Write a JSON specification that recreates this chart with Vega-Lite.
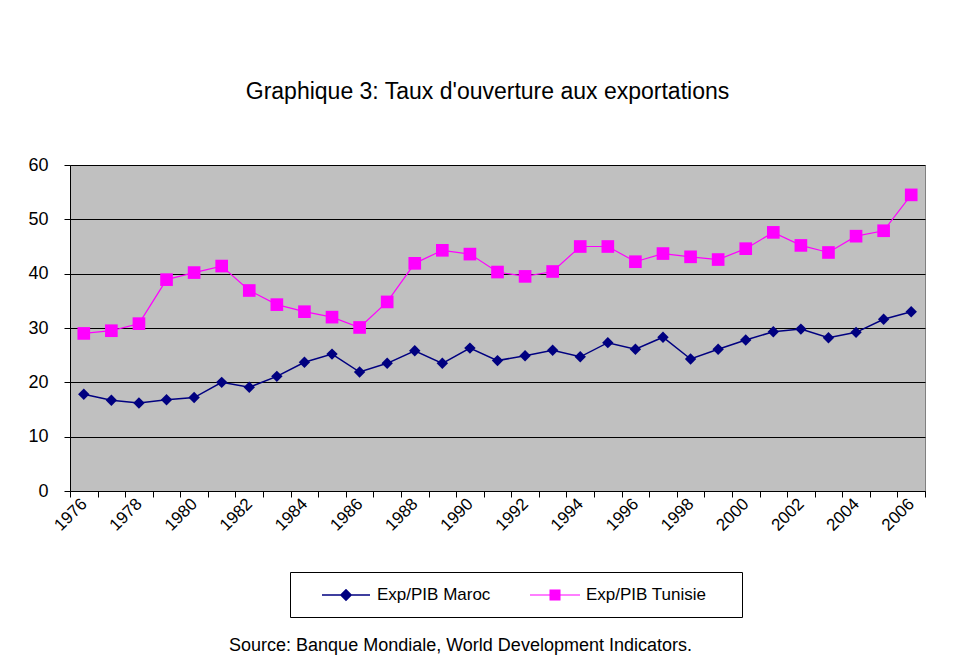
{
  "$schema": "https://vega.github.io/schema/vega-lite/v6.json",
  "width": 855,
  "height": 326,
  "autosize": {"type": "none"},
  "padding": {"left": 70, "top": 165, "right": 32, "bottom": 179},
  "background": "white",
  "title": {
    "text": "Graphique 3: Taux d'ouverture aux exportations",
    "font": "Liberation Sans",
    "fontSize": 23,
    "fontWeight": "normal",
    "color": "black",
    "anchor": "middle",
    "offset": 52,
    "dx": -10
  },
  "config": {
    "view": {"fill": "#C0C0C0", "stroke": "#808080", "strokeWidth": 1},
    "axis": {"labelFont": "Liberation Sans", "titleFont": "Liberation Sans", "labelColor": "black", "titleColor": "black", "domainColor": "black", "tickColor": "black"},
    "legend": {"labelFont": "Liberation Sans", "titleFont": "Liberation Sans"}
  },
  "data": {
    "values": [
      {"year": 1976, "series": "Exp/PIB Maroc", "value": 17.8},
      {"year": 1977, "series": "Exp/PIB Maroc", "value": 16.7},
      {"year": 1978, "series": "Exp/PIB Maroc", "value": 16.2},
      {"year": 1979, "series": "Exp/PIB Maroc", "value": 16.8},
      {"year": 1980, "series": "Exp/PIB Maroc", "value": 17.2},
      {"year": 1981, "series": "Exp/PIB Maroc", "value": 20.0},
      {"year": 1982, "series": "Exp/PIB Maroc", "value": 19.1},
      {"year": 1983, "series": "Exp/PIB Maroc", "value": 21.1},
      {"year": 1984, "series": "Exp/PIB Maroc", "value": 23.7},
      {"year": 1985, "series": "Exp/PIB Maroc", "value": 25.2},
      {"year": 1986, "series": "Exp/PIB Maroc", "value": 21.9},
      {"year": 1987, "series": "Exp/PIB Maroc", "value": 23.5},
      {"year": 1988, "series": "Exp/PIB Maroc", "value": 25.8},
      {"year": 1989, "series": "Exp/PIB Maroc", "value": 23.5},
      {"year": 1990, "series": "Exp/PIB Maroc", "value": 26.3},
      {"year": 1991, "series": "Exp/PIB Maroc", "value": 24.0},
      {"year": 1992, "series": "Exp/PIB Maroc", "value": 24.9},
      {"year": 1993, "series": "Exp/PIB Maroc", "value": 25.9},
      {"year": 1994, "series": "Exp/PIB Maroc", "value": 24.7},
      {"year": 1995, "series": "Exp/PIB Maroc", "value": 27.3},
      {"year": 1996, "series": "Exp/PIB Maroc", "value": 26.1},
      {"year": 1997, "series": "Exp/PIB Maroc", "value": 28.3},
      {"year": 1998, "series": "Exp/PIB Maroc", "value": 24.3},
      {"year": 1999, "series": "Exp/PIB Maroc", "value": 26.1},
      {"year": 2000, "series": "Exp/PIB Maroc", "value": 27.8},
      {"year": 2001, "series": "Exp/PIB Maroc", "value": 29.3},
      {"year": 2002, "series": "Exp/PIB Maroc", "value": 29.8},
      {"year": 2003, "series": "Exp/PIB Maroc", "value": 28.2},
      {"year": 2004, "series": "Exp/PIB Maroc", "value": 29.2},
      {"year": 2005, "series": "Exp/PIB Maroc", "value": 31.6},
      {"year": 2006, "series": "Exp/PIB Maroc", "value": 33.0},
      {"year": 1976, "series": "Exp/PIB Tunisie", "value": 29.0},
      {"year": 1977, "series": "Exp/PIB Tunisie", "value": 29.5},
      {"year": 1978, "series": "Exp/PIB Tunisie", "value": 30.8},
      {"year": 1979, "series": "Exp/PIB Tunisie", "value": 38.9},
      {"year": 1980, "series": "Exp/PIB Tunisie", "value": 40.2},
      {"year": 1981, "series": "Exp/PIB Tunisie", "value": 41.4},
      {"year": 1982, "series": "Exp/PIB Tunisie", "value": 36.9},
      {"year": 1983, "series": "Exp/PIB Tunisie", "value": 34.3},
      {"year": 1984, "series": "Exp/PIB Tunisie", "value": 33.0},
      {"year": 1985, "series": "Exp/PIB Tunisie", "value": 32.0},
      {"year": 1986, "series": "Exp/PIB Tunisie", "value": 30.1},
      {"year": 1987, "series": "Exp/PIB Tunisie", "value": 34.8},
      {"year": 1988, "series": "Exp/PIB Tunisie", "value": 41.9},
      {"year": 1989, "series": "Exp/PIB Tunisie", "value": 44.3},
      {"year": 1990, "series": "Exp/PIB Tunisie", "value": 43.6},
      {"year": 1991, "series": "Exp/PIB Tunisie", "value": 40.3},
      {"year": 1992, "series": "Exp/PIB Tunisie", "value": 39.5},
      {"year": 1993, "series": "Exp/PIB Tunisie", "value": 40.4},
      {"year": 1994, "series": "Exp/PIB Tunisie", "value": 45.0},
      {"year": 1995, "series": "Exp/PIB Tunisie", "value": 45.0},
      {"year": 1996, "series": "Exp/PIB Tunisie", "value": 42.2},
      {"year": 1997, "series": "Exp/PIB Tunisie", "value": 43.7},
      {"year": 1998, "series": "Exp/PIB Tunisie", "value": 43.1},
      {"year": 1999, "series": "Exp/PIB Tunisie", "value": 42.6},
      {"year": 2000, "series": "Exp/PIB Tunisie", "value": 44.6},
      {"year": 2001, "series": "Exp/PIB Tunisie", "value": 47.6},
      {"year": 2002, "series": "Exp/PIB Tunisie", "value": 45.2},
      {"year": 2003, "series": "Exp/PIB Tunisie", "value": 43.9},
      {"year": 2004, "series": "Exp/PIB Tunisie", "value": 46.9},
      {"year": 2005, "series": "Exp/PIB Tunisie", "value": 47.9},
      {"year": 2006, "series": "Exp/PIB Tunisie", "value": 54.5}
    ]
  },
  "encoding": {
    "x": {
      "field": "year",
      "type": "ordinal",
      "bandPosition": 0.5,
      "scale": {"type": "band", "paddingInner": 0, "paddingOuter": 0},
      "axis": {
        "title": "Source: Banque Mondiale, World Development Indicators.",
        "titleFontSize": 18,
        "titleFontWeight": "normal",
        "titlePadding": 103,
        "titleX": 390,
        "labelExpr": "datum.value % 2 == 0 ? datum.label : ''",
        "labelAngle": -45,
        "labelAlign": "right",
        "labelBaseline": "middle",
        "labelFontSize": 17,
        "labelPadding": 4,
        "tickBand": "extent",
        "tickSize": 6,
        "grid": false,
        "domainColor": "black"
      }
    },
    "y": {
      "field": "value",
      "type": "quantitative",
      "scale": {"domain": [0, 60], "nice": false},
      "axis": {
        "title": null,
        "values": [0, 10, 20, 30, 40, 50, 60],
        "labelFontSize": 18,
        "labelPadding": 16,
        "tickSize": 6,
        "grid": true,
        "gridColor": "black",
        "gridWidth": 1,
        "gridOpacity": 1
      }
    }
  },
  "layer": [
    {
      "mark": {"type": "line"},
      "encoding": {
        "color": {
          "field": "series",
          "type": "nominal",
          "scale": {"domain": ["Exp/PIB Maroc", "Exp/PIB Tunisie"], "range": ["#000080", "#FF00FF"]},
          "legend": null
        },
        "strokeWidth": {
          "field": "series",
          "type": "nominal",
          "scale": {"domain": ["Exp/PIB Maroc", "Exp/PIB Tunisie"], "range": [1.5, 1.2]},
          "legend": null
        }
      }
    },
    {
      "transform": [{"filter": "datum.series == 'Exp/PIB Maroc'"}],
      "mark": {"type": "point", "filled": true, "opacity": 1, "shape": "diamond", "size": 130},
      "encoding": {
        "color": {"field": "series", "type": "nominal", "legend": null}
      }
    },
    {
      "transform": [{"filter": "datum.series == 'Exp/PIB Tunisie'"}],
      "mark": {"type": "point", "filled": true, "opacity": 1, "shape": "square", "size": 160},
      "encoding": {
        "color": {"field": "series", "type": "nominal", "legend": null}
      }
    },
    {
      "transform": [{"filter": "datum.series == 'Exp/PIB Maroc'"}],
      "mark": {"type": "point", "filled": true, "size": 0, "fill": "#000080", "stroke": "#000080", "strokeWidth": 1.5},
      "encoding": {
        "shape": {
          "field": "series",
          "type": "nominal",
          "scale": {"domain": ["Exp/PIB Maroc"], "range": ["M-2.4,-0.07H2.4V0.07H-2.4ZM0,-0.62L0.62,0L0,0.62L-0.62,0Z"]},
          "legend": {
            "title": " ",
            "titleOrient": "right",
            "titlePadding": 240,
            "orient": "none",
            "legendX": 220,
            "legendY": 407,
            "strokeColor": "black",
            "padding": 12,
            "symbolSize": 400,
            "symbolStrokeWidth": 1.5,
            "symbolFillColor": "#000080",
            "symbolStrokeColor": "#000080",
            "symbolOpacity": 1,
            "symbolOffset": 33,
            "labelOffset": 20,
            "labelFontSize": 17,
            "labelColor": "black"
          }
        }
      }
    },
    {
      "transform": [{"filter": "datum.series == 'Exp/PIB Tunisie'"}],
      "mark": {"type": "point", "filled": true, "size": 0, "fill": "#FF00FF", "stroke": "#FF00FF", "strokeWidth": 1.5},
      "encoding": {
        "shape": {
          "field": "series",
          "type": "nominal",
          "scale": {"domain": ["Exp/PIB Tunisie"], "range": ["M-2.5,-0.06H2.5V0.06H-2.5ZM-0.55,-0.55H0.55V0.55H-0.55Z"]},
          "legend": {
            "title": null,
            "orient": "none",
            "legendX": 429,
            "legendY": 407,
            "padding": 12,
            "symbolSize": 400,
            "symbolStrokeWidth": 1.5,
            "symbolFillColor": "#FF00FF",
            "symbolStrokeColor": "#FF00FF",
            "symbolOpacity": 1,
            "symbolOffset": 33,
            "labelOffset": 20,
            "labelFontSize": 17,
            "labelColor": "black"
          }
        }
      }
    }
  ],
  "resolve": {"scale": {"shape": "independent"}, "legend": {"shape": "independent"}}
}
